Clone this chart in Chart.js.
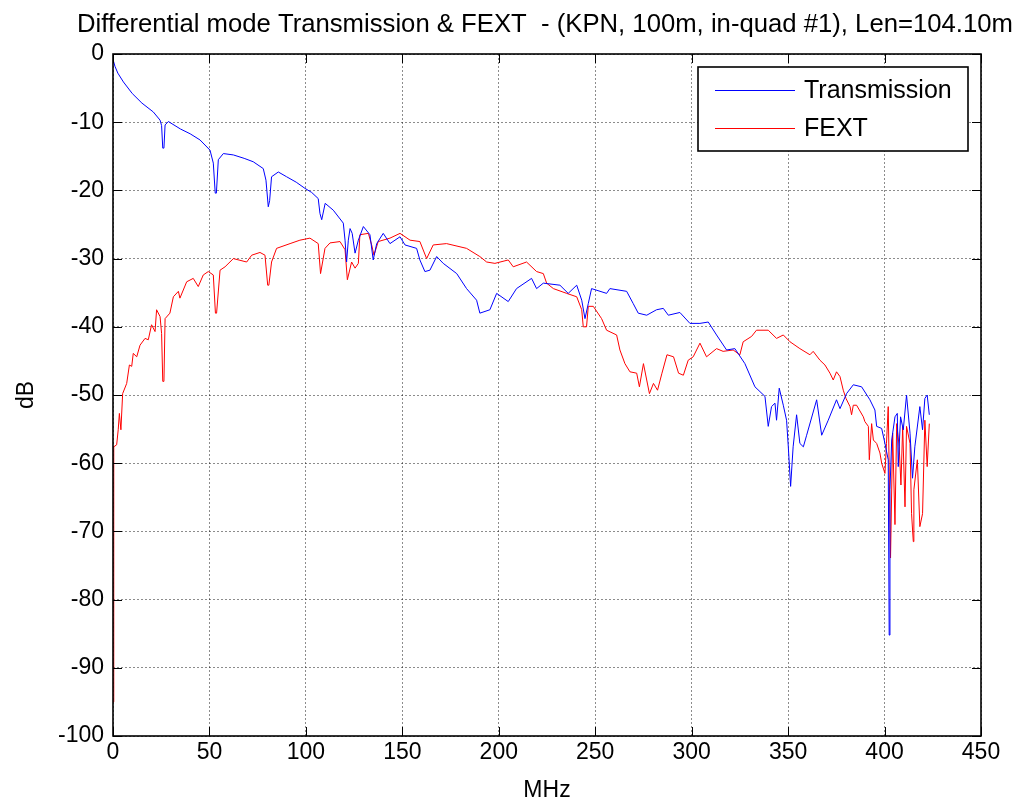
<!DOCTYPE html>
<html>
<head>
<meta charset="utf-8">
<title>Differential mode Transmission & FEXT</title>
<script src="https://cdn.jsdelivr.net/npm/chart.js@4/dist/chart.umd.min.js"></script>
<style>
    html, body { margin: 0; padding: 0; background: #ffffff; }
    canvas { display: block; }
</style>
</head>
<body>
<canvas id="chart" width="1017" height="803"></canvas>
<script>
// Values (MHz, dB)
const transFreq = [0, 1, 2.5, 5.4, 10, 15, 20.9, 24.4, 25.2, 25.8, 26.4, 27, 28.7, 35, 40, 45.1, 50.3, 52, 53, 53.6,
    54.6, 57.2, 62.4, 68, 72.7, 77.9, 79.3, 80.5, 81.2, 82.2, 85.7, 90, 95, 99.5, 103, 106.4, 107.3, 108.2, 110, 114.2,
    119.4, 120.3, 121.1, 122, 122.9, 124, 125.5, 127.2, 129.8, 133.2, 134.9, 136.7, 140.1, 143.6, 148.8, 151.4, 157.4, 159.1, 161.7, 164.3,
    167.8, 171.2, 178.2, 183.3, 188.5, 190.2, 195.4, 198.9, 204.9, 209.2, 217, 219.6, 223.1, 231.7, 236, 240.4, 243, 244.7, 246.4, 248.1,
    255.9, 257.6, 266.3, 269.7, 272.3, 276.7, 281.8, 285.3, 287.9, 293.9, 299.1, 304.3, 308.6, 312.9, 318.1, 322.4, 327.6, 332.8, 338, 339.7,
    341.4, 343.2, 344, 345.4, 347.5, 349.2, 350.1, 351.3, 352.6, 354.4, 356.1, 357.9, 359.6, 364.8, 367.4, 370.8, 375.1, 376.9, 380.3, 383.8,
    388.1, 392.4, 395, 395.9, 398.5, 400.2, 401.9, 402.4, 402.8, 403.7, 405.4, 406.6, 407.1, 408.3, 409.7, 411.4, 413.2, 414.5, 415.7, 418.3,
    419.7, 420.9, 422.1, 423.2];
const transDb = [-0.8, -1.8, -2.8, -4.1, -5.8, -7.2, -8.5, -9.7, -10.5, -13.8, -13.8, -10.4, -9.9, -11, -11.7, -12.6, -14.1, -16, -20.4, -20.4,
    -15.5, -14.6, -14.8, -15.3, -15.8, -16.8, -18.5, -22.4, -21.5, -18, -17.3, -18, -18.8, -19.7, -20.3, -21.2, -23.4, -24.3, -21.9, -22.9,
    -24.8, -27.3, -30.5, -27.3, -25.6, -26.3, -29.2, -27.3, -25.3, -26.5, -30.2, -27.8, -26.3, -27.8, -26.8, -28, -28.5, -30.2, -31.9, -31.7,
    -29.7, -30.7, -32.2, -34.4, -36.1, -38, -37.5, -35.1, -36.3, -34.4, -32.9, -34.4, -33.6, -33.9, -35.1, -33.9, -36.1, -38.8, -36.6, -34.4,
    -35.1, -34.4, -34.8, -36.6, -38, -38.3, -37.5, -37.3, -38.3, -37.9, -39.5, -39.5, -39.3, -41.2, -43.4, -43.2, -45.4, -48.8, -50.2, -54.6,
    -51.7, -51.2, -53.7, -49, -51.5, -53.7, -57.6, -63.4, -57.6, -52.9, -57.1, -57.6, -55.9, -50.7, -55.9, -53.7, -50.7, -52, -49.8, -48.5,
    -48.8, -50.7, -52.2, -54.6, -54.9, -57.1, -59.5, -85.2, -63.9, -56.6, -53.2, -52.7, -60.5, -53.2, -55.1, -50, -55.6, -62.2, -57.6, -51.7,
    -55.1, -50.5, -50, -52.9];

const fextFreq = [0, 0.3, 0.5, 1.9, 2.7, 3.3, 4.1, 5, 7.1, 8.5, 9.7, 10.5, 12.3, 14, 16.6, 18.3, 20, 21.8, 22.6, 24.4,
    25.2, 25.8, 26.4, 27, 29.5, 31.3, 33.9, 34.7, 38.2, 41.6, 44.2, 46.8, 49.4, 52, 53.1, 53.7, 55.5, 58.1, 62.4, 69.3,
    71.9, 76.2, 78.8, 80.2, 80.8, 82.2, 84.8, 91.8, 96.9, 102.1, 106.4, 107.6, 109.9, 112.5, 117.7, 120.3, 121.5, 123.7, 125.5, 127.2,
    128, 132.4, 134.1, 135.3, 137.5, 143.6, 148.8, 154, 159.1, 162.6, 166, 172.9, 183.3, 190.2, 193.7, 198, 204.9, 207.5, 214.4, 219.6,
    223.1, 224.8, 228.3, 235.2, 240.4, 243, 243.8, 245.5, 246.4, 249, 253.3, 255.9, 261.1, 262.8, 265.4, 268, 271.5, 272.9, 275, 278.1,
    280.2, 282.3, 284.6, 287.2, 290.6, 293.2, 295.7, 298.2, 300.8, 304.3, 307.7, 312.9, 316.3, 321.5, 325, 326.7, 331.1, 333.6, 339.7, 344,
    347.5, 351, 356.1, 361.3, 363, 366.5, 369.1, 371.7, 373.4, 375.1, 376.9, 378.6, 380, 382.1, 382.9, 383.8, 385.5, 389, 389.8, 391.6,
    392.1, 393.3, 394.2, 395.9, 397.6, 398.5, 400.2, 401, 401.9, 403.1, 404.2, 405.4, 406.3, 407.6, 408.5, 409.4, 410.6, 411.4, 413.2, 414,
    414.9, 415.2, 417, 418.3, 419.7, 420.9, 422.1, 423.2];
const fextDb = [-95, -63, -57.6, -57.3, -55.1, -52.7, -55.1, -49.8, -48.3, -45.6, -45.8, -43.9, -44.4, -42.7, -41.7, -41.9, -39.7, -40.7, -37.5, -38.5,
    -41, -48, -48, -38.8, -38, -35.6, -34.8, -35.8, -33.4, -32.9, -34.1, -32.4, -31.9, -32.4, -38, -38, -31.7, -31.2, -30, -30.5,
    -29.5, -29.1, -29.5, -33.9, -33.9, -30.5, -28.5, -27.8, -27.3, -27, -27.8, -32.2, -28.5, -27.7, -27.5, -28.7, -33.1, -30.5, -31.4, -30.7,
    -26.5, -26.3, -28, -29.5, -27.5, -27, -26.3, -27.3, -27.5, -30, -28, -27.8, -28.5, -29.7, -30.5, -30.7, -30.2, -31.2, -30.5, -31.9,
    -32.2, -33.6, -34.4, -35.1, -35.6, -37.5, -40, -40, -37, -37, -38.8, -40.5, -41.2, -43.4, -45.4, -46.6, -46.8, -48.8, -45.4, -49.8,
    -48.3, -49.3, -46.8, -44.1, -44.4, -46.8, -47.1, -44.9, -44.4, -42.4, -44.4, -43.2, -43.6, -43.4, -44.1, -42.2, -41.4, -40.5, -40.5, -41.7,
    -41.2, -42.2, -43.2, -44.1, -43.6, -44.9, -45.6, -46.8, -47.8, -46.6, -47.3, -49.3, -50.5, -51.7, -52.9, -51.5, -51.5, -53.2, -53.9, -54.6,
    -59.5, -54.2, -56.6, -57.1, -58.5, -60, -61.5, -57.1, -51.7, -73.9, -55.6, -69, -54.2, -57.6, -63.2, -54.6, -66.4, -54.6, -57.1, -67.4,
    -71.5, -63.9, -59.5, -69.3, -67.4, -53.7, -60.5, -54.2];

const seriesLabels = ["Transmission", "FEXT"];
const xTicks = [0, 50, 100, 150, 200, 250, 300, 350, 400, 450];
const yTicks = [0, -10, -20, -30, -40, -50, -60, -70, -80, -90, -100];
const chartTitle = "Differential mode Transmission & FEXT  - (KPN, 100m, in-quad #1), Len=104.10m";

const FONT = "Arial, 'Liberation Sans', Helvetica, sans-serif";

function toPoints(xs, ys) {
    return xs.map((x, i) => ({ x: x, y: ys[i] }));
}

// Box round the plot with MATLAB-style inward ticks, a boxed legend and the title
const matlabFrame = {
    id: "matlabFrame",
    afterDraw(chart) {
        const { ctx, chartArea: area, scales } = chart;
        const tick = 9;
        ctx.save();
        ctx.strokeStyle = "#000000";
        ctx.lineWidth = 1;
        ctx.setLineDash([]);
        ctx.beginPath();
        xTicks.forEach(v => {
            const px = Math.round(scales.x.getPixelForValue(v)) + 0.5;
            ctx.moveTo(px, area.bottom); ctx.lineTo(px, area.bottom - tick);
            ctx.moveTo(px, area.top); ctx.lineTo(px, area.top + tick);
        });
        yTicks.forEach(v => {
            const py = Math.round(scales.y.getPixelForValue(v)) + 0.5;
            ctx.moveTo(area.left, py); ctx.lineTo(area.left + tick, py);
            ctx.moveTo(area.right, py); ctx.lineTo(area.right - tick, py);
        });
        ctx.stroke();

        ctx.lineWidth = 1.6;
        ctx.strokeRect(area.left, area.top, area.right - area.left, area.bottom - area.top);

        // title, centred over the plot area (it is wider than the plot)
        ctx.fillStyle = "#000000";
        ctx.font = "25.7px " + FONT;
        ctx.textAlign = "center";
        ctx.textBaseline = "alphabetic";
        ctx.fillText(chartTitle, (area.left + area.right) / 2 - 2, area.top - 22);

        // legend
        const boxW = 270, boxH = 84;
        const bx = area.right - 13 - boxW, by = area.top + 13;
        ctx.fillStyle = "#ffffff";
        ctx.fillRect(bx, by, boxW, boxH);
        ctx.strokeRect(bx, by, boxW, boxH);
        ctx.font = "25px " + FONT;
        ctx.textBaseline = "middle";
        ctx.textAlign = "left";
        chart.data.datasets.forEach((ds, i) => {
            const ly = by + 23 + i * 38;
            ctx.strokeStyle = ds.borderColor;
            ctx.lineWidth = 1;
            ctx.beginPath();
            ctx.moveTo(bx + 17, ly + 0.5);
            ctx.lineTo(bx + 97, ly + 0.5);
            ctx.stroke();
            ctx.fillStyle = "#000000";
            ctx.fillText(ds.label, bx + 106, ly + 1);
        });
        ctx.restore();
    }
};

const ctx = document.getElementById("chart").getContext("2d");
new Chart(ctx, {
    type: "line",
    data: {
        datasets: [
            {
                label: seriesLabels[0],
                data: toPoints(transFreq, transDb),
                borderColor: "#0000ff",
                borderWidth: 1,
                pointRadius: 0,
                tension: 0
            },
            {
                label: seriesLabels[1],
                data: toPoints(fextFreq, fextDb),
                borderColor: "#ff0000",
                borderWidth: 1,
                pointRadius: 0,
                tension: 0
            }
        ]
    },
    options: {
        responsive: false,
        animation: false,
        layout: { padding: { left: 0, right: 36, top: 54, bottom: 0 } },
        plugins: {
            legend: { display: false },
            tooltip: { enabled: false },
            title: { display: false }
        },
        scales: {
            x: {
                type: "linear",
                min: 0,
                max: 450,
                afterBuildTicks: s => { s.ticks = xTicks.map(v => ({ value: v })); },
                afterFit: s => { s.height = 67; },
                grid: { color: "rgba(0,0,0,0.45)", lineWidth: 1, drawTicks: false },
                border: { display: false, dash: [2, 2] },
                ticks: {
                    color: "#000000",
                    font: { family: FONT, size: 23 },
                    padding: 3,
                    maxRotation: 0
                },
                title: {
                    display: true,
                    text: "MHz",
                    color: "#000000",
                    font: { family: FONT, size: 23, lineHeight: 1 },
                    padding: { top: 0, bottom: 1 }
                }
            },
            y: {
                type: "linear",
                min: -100,
                max: 0,
                afterBuildTicks: s => { s.ticks = yTicks.map(v => ({ value: v })); },
                afterFit: s => { s.width = 113; },
                grid: { color: "rgba(0,0,0,0.45)", lineWidth: 1, drawTicks: false },
                border: { display: false, dash: [2, 2] },
                ticks: {
                    color: "#000000",
                    font: { family: FONT, size: 23 },
                    padding: 9
                },
                title: {
                    display: true,
                    text: "dB",
                    color: "#000000",
                    font: { family: FONT, size: 23, lineHeight: 1 },
                    padding: { top: 15, bottom: 0 }
                }
            }
        }
    },
    plugins: [matlabFrame]
});
</script>
</body>
</html>
